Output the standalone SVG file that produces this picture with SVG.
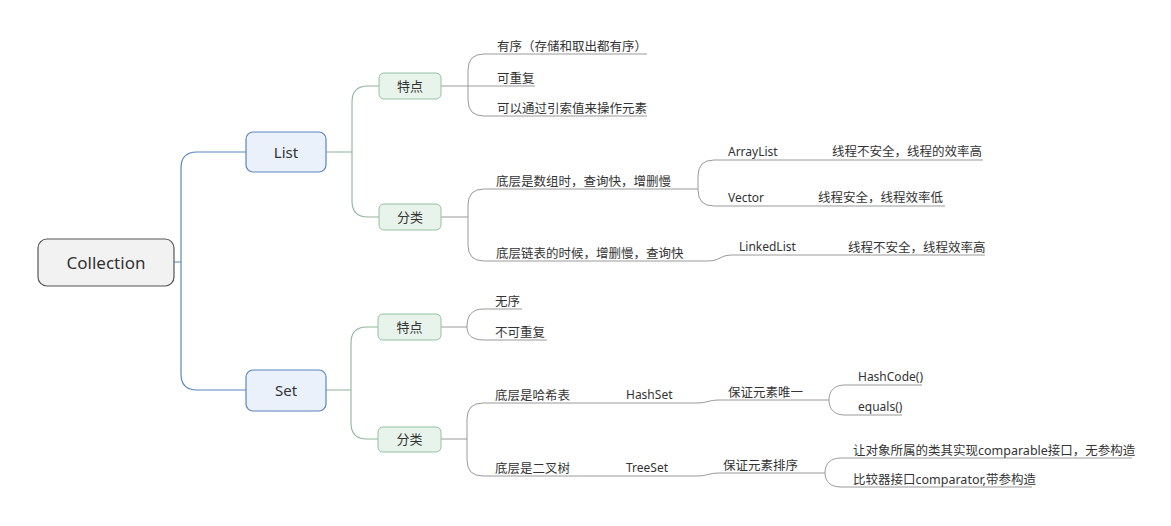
<svg xmlns="http://www.w3.org/2000/svg" width="1171" height="526" viewBox="0 0 1171 526">
<style>
.t{font-family:"Noto Sans","Noto Sans CJK SC",sans-serif;fill:#333}
.leaf{font-size:12.5px}
.lat{font-size:12px}
.c1{fill:none;stroke:#5a86bf;stroke-width:1.2}
.c2{fill:none;stroke:#8fb49c;stroke-width:1.1}
.c3{fill:none;stroke:#9a9a9a;stroke-width:1}
.root{fill:#f2f2f2;stroke:#555;stroke-width:1.2}
.main{fill:#eaf1fb;stroke:#5a86bf;stroke-width:1.2}
.sub{fill:#e7f3eb;stroke:#93c2a4;stroke-width:1}
</style>
<rect width="1171" height="526" fill="#fff"/>
<g id="connectors">
<path class="c1" d="M174,262 H181 M181,262 V168 Q181,152 197,152 H246 M181,262 V374 Q181,390 197,390 H246"/>
<path class="c2" d="M326,152 H352 M352,152 V102 Q352,86 368,86 H379 M352,152 V201 Q352,217 368,217 H379"/>
<path class="c2" d="M326,390 H351 M351,390 V343 Q351,327 367,327 H378 M351,390 V423 Q351,439 367,439 H378"/>
<path class="c3" d="M441,86 H535 M468,86 V70 Q468,54 484,54 H647 M468,86 V100 Q468,116 484,116 H647"/>
<path class="c3" d="M441,217 H468 M468,217 V205 Q468,189 484,189 H698 M468,217 V245 Q468,261 484,261 H708 C720,261 720,255 732,255 H985"/>
<path class="c3" d="M698,189 V176 Q698,160 714,160 H983 M698,189 V190 Q698,206 714,206 H945"/>
<path class="c3" d="M441,327 H467 M467,327 C467,315 472,309 484,309 H522 M467,327 C467,335 472,340 484,340 H547"/>
<path class="c3" d="M441,439 H467 M467,439 V419 Q467,403 483,403 H696 C708,403 708,400 720,400 H829 M467,439 V460 Q467,476 483,476 H696 C708,476 708,473 720,473 H825"/>
<path class="c3" d="M829,400 C829,390 835,385 845,385 H922 M829,400 C829,410 835,415 845,415 H902"/>
<path class="c3" d="M825,473 C825,463 831,458 841,458 H1132 M825,473 C825,482 831,487 841,487 H1032"/>
</g>
<g id="n-collection"><rect class="root" x="38" y="239" width="136" height="47" rx="9"/><text class="t" x="106" y="269" font-size="17" text-anchor="middle">Collection</text></g>
<g id="n-list"><rect class="main" x="246" y="132" width="80" height="40" rx="7"/><text class="t" x="286" y="157.5" font-size="15" text-anchor="middle">List</text></g>
<g id="n-set"><rect class="main" x="246" y="370" width="80" height="41" rx="7"/><text class="t" x="286" y="396" font-size="15" text-anchor="middle">Set</text></g>
<g id="n-list-tedian"><rect class="sub" x="379" y="73" width="62" height="26" rx="5"/><text class="t" x="410" y="90.5" font-size="13" text-anchor="middle">特点</text></g>
<g id="n-list-fenlei"><rect class="sub" x="379" y="204" width="62" height="26" rx="5"/><text class="t" x="410" y="221.5" font-size="13" text-anchor="middle">分类</text></g>
<g id="n-set-tedian"><rect class="sub" x="378" y="314" width="63" height="26" rx="5"/><text class="t" x="409.5" y="331.5" font-size="13" text-anchor="middle">特点</text></g>
<g id="n-set-fenlei"><rect class="sub" x="378" y="427" width="63" height="25" rx="5"/><text class="t" x="409.5" y="444" font-size="13" text-anchor="middle">分类</text></g>
<g id="n-youxu"><text class="t leaf" x="497 509.5 522 534.5 547 559.5 572 584.5 597 609.5 622 634.5" y="51">有序（存储和取出都有序）</text></g>
<g id="n-kechongfu"><text class="t leaf" x="497" y="83">可重复</text></g>
<g id="n-suoyin"><text class="t leaf" x="497" y="113">可以通过引索值来操作元素</text></g>
<g id="n-shuzu"><text class="t leaf" x="496" y="186">底层是数组时，查询快，增删慢</text></g>
<g id="n-lianbiao"><text class="t leaf" x="496" y="258">底层链表的时候，增删慢，查询快</text></g>
<g id="n-arraylist"><text class="t lat" x="728" y="156">ArrayList</text></g>
<g id="n-arraylist-d"><text class="t leaf" x="832" y="156">线程不安全，线程的效率高</text></g>
<g id="n-vector"><text class="t lat" x="728" y="202">Vector</text></g>
<g id="n-vector-d"><text class="t leaf" x="818" y="202">线程安全，线程效率低</text></g>
<g id="n-linkedlist"><text class="t lat" x="739" y="251">LinkedList</text></g>
<g id="n-linkedlist-d"><text class="t leaf" x="848" y="252">线程不安全，线程效率高</text></g>
<g id="n-wuxu"><text class="t leaf" x="495" y="306">无序</text></g>
<g id="n-bukechongfu"><text class="t leaf" x="495" y="337">不可重复</text></g>
<g id="n-haxi"><text class="t leaf" x="495" y="400">底层是哈希表</text></g>
<g id="n-hashset"><text class="t lat" x="626" y="399">HashSet</text></g>
<g id="n-weiyi"><text class="t leaf" x="728" y="397">保证元素唯一</text></g>
<g id="n-hashcode"><text class="t lat" x="858" y="381">HashCode()</text></g>
<g id="n-equals"><text class="t lat" x="858" y="411">equals()</text></g>
<g id="n-erchashu"><text class="t leaf" x="495" y="473">底层是二叉树</text></g>
<g id="n-treeset"><text class="t lat" x="626" y="472">TreeSet</text></g>
<g id="n-paixu"><text class="t leaf" x="723" y="470">保证元素排序</text></g>
<g id="n-comparable"><text class="t leaf" x="853" y="455">让对象所属的类其实现comparable接口，无参构造</text></g>
<g id="n-comparator"><text class="t leaf" x="853" y="484">比较器接口comparator,带参构造</text></g>
</svg>
